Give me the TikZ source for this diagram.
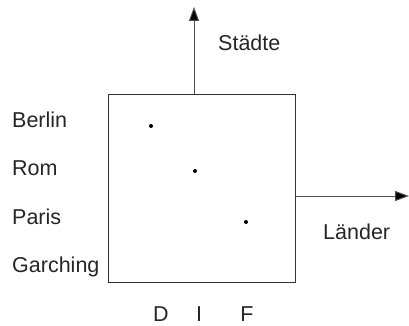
\documentclass[tikz,border=0pt]{standalone}
\usepackage{fontspec}
\setmainfont{Liberation Sans}
\usetikzlibrary{arrows.meta}
\begin{document}
\begin{tikzpicture}[x=1pt,y=-1pt,
  frame/.style={draw=black!80,line width=1pt},
  arr/.style={draw=black!70,line width=1pt,-{Triangle[length=14pt,width=10pt,fill=black]}},
  lbl/.style={inner sep=0pt,font=\fontsize{21.5}{25}\selectfont,text=black!85},
  dot/.style={circle,fill=black,inner sep=0pt,minimum size=4pt}]
\useasboundingbox (0,0) rectangle (409,326);
\node[frame,rectangle,minimum width=187pt,minimum height=188pt,inner sep=0pt,anchor=north west] (box) at (108,94) {};
\coordinate (ybase) at (194,94);
\coordinate (ytip) at (194,7);
\coordinate (xbase) at (box.east |- 0,196);
\coordinate (xtip) at (409,196);
\draw[arr] (ybase) -- (ytip);
\draw[arr] (xbase) -- (xtip);
\node[lbl,anchor=base west] (staedte) at (218,51) {Städte};
\node[lbl,anchor=base west] (laender) at (323,239) {Länder};
\node[lbl,anchor=base west] (berlin) at (12,127) {Berlin};
\node[lbl,anchor=base west] (rom) at (12,175.5) {Rom};
\node[lbl,anchor=base west] (paris) at (12,224) {Paris};
\node[lbl,anchor=base west] (garching) at (12,272.5) {Garching};
\node[lbl,anchor=base] (d) at (161,321.5) {D};
\node[lbl,anchor=base] (i) at (199,321.5) {I};
\node[lbl,anchor=base] (f) at (247,321.5) {F};
\node[dot] (p1) at (151,126) {};
\node[dot] (p2) at (195,171) {};
\node[dot] (p3) at (246,222) {};
\end{tikzpicture}
\end{document}
